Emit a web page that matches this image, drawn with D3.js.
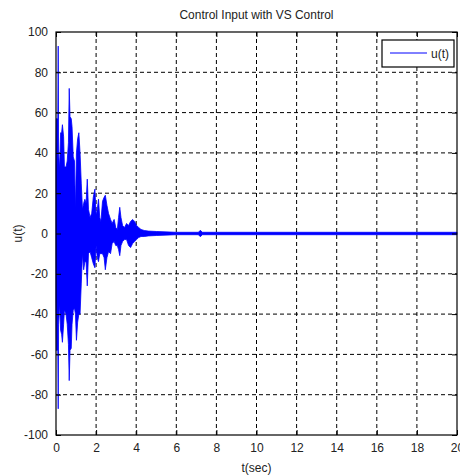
<!DOCTYPE html>
<html><head><meta charset="utf-8">
<script src="https://cdn.jsdelivr.net/npm/d3@7"></script>
<style>body{margin:0;background:#fff}text{font-family:"Liberation Sans",Arial,sans-serif;fill:#222}</style>
</head><body>
<svg id="c" width="460" height="475"></svg>
<script>
// ---- data ----
const title = "Control Input with VS Control";
const xLabel = "t(sec)";
const yLabel = "u(t)";
const seriesName = "u(t)";
const xTicks = [0,2,4,6,8,10,12,14,16,18,20];
const xTickLabels = ["0","2","4","6","8","10","12","14","16","18","20"];
const yTicks = [-100,-80,-60,-40,-20,0,20,40,60,80,100];
const yTickLabels = ["-100","-80","-60","-40","-20","0","20","40","60","80","100"];
// envelope of the fast-oscillating control signal: time (s), upper peaks, lower peaks
const time = [0,0.02,0.09,0.11,0.13,0.18,0.23,0.28,0.32,0.38,0.42,0.5,0.56,0.62,0.66,0.70,0.76,0.80,0.86,0.92,0.97,1.02,1.08,1.14,1.20,1.26,1.32,1.38,1.44,1.50,1.56,1.62,1.70,1.78,1.86,1.94,2.00,2.06,2.12,2.18,2.24,2.32,2.40,2.46,2.54,2.62,2.72,2.80,2.90,2.98,3.06,3.12,3.18,3.24,3.32,3.42,3.52,3.62,3.72,3.82,3.92,4.02,4.12,4.24,4.40,4.60,5.00,6.00,7.10,7.20,7.30,8.00,10.0,12.0,14.0,16.0,18.0,20.0];
const uUpper = [32,57,57,93,40,32,50,50,54,48,33,33,36,45,72,58,57,53,38,36,12,40,47,50,40,25,12,15,17,15,27,12,8,10,18,22,9,12,17,8,6,16,18,19,14,10,7,5,7,3,2,8,13,8,4,3,5,4,6,7,6,4,3,2,1.5,1.2,1,0.6,0.6,1.6,0.6,0.6,0.6,0.6,0.6,0.6,0.6,0.6];
const uLower = [-32,-58,-58,-87,-45,-35,-48,-50,-54,-45,-38,-40,-45,-55,-73,-58,-57,-45,-38,-37,-40,-53,-44,-40,-40,-25,-10,-18,-14,-14,-26,-10,-9,-12,-15,-17,-6,-12,-14,-10,-10,-10,-12,-18,-12,-9,-10,-5,-4,-6,-6,-8,-11,-6,-4,-3,-3,-6,-7,-5,-4,-3,-2,-1.5,-1.5,-1.2,-1,-0.6,-0.6,-1.6,-0.6,-0.6,-0.6,-0.6,-0.6,-0.6,-0.6,-0.6];

// ---- layout ----
const svg = d3.select("#c");
const L = 56, R = 457, T = 32, B = 435;
const x = d3.scaleLinear().domain([0,20]).range([L,R]);
const y = d3.scaleLinear().domain([-100,100]).range([B,T]);
const blue = "#0000ff";

// grid
const g = svg.append("g");
g.selectAll(".vg").data(xTicks.slice(1,-1)).enter().append("line")
  .attr("x1",d=>x(d)).attr("x2",d=>x(d)).attr("y1",T).attr("y2",B)
  .attr("stroke","#000").attr("stroke-width",1).attr("stroke-dasharray","4,3");
g.selectAll(".hg").data(yTicks.slice(1,-1)).enter().append("line")
  .attr("y1",d=>y(d)).attr("y2",d=>y(d)).attr("x1",L).attr("x2",R)
  .attr("stroke","#000").attr("stroke-width",1).attr("stroke-dasharray","4,3");

// data
const pts = time.map((t,i)=>({t, hi:uUpper[i], lo:uLower[i]}));
const area = d3.area().x(d=>x(d.t)).y0(d=>y(d.lo)).y1(d=>y(d.hi));
svg.append("path").datum(pts).attr("d",area).attr("fill",blue).attr("stroke",blue).attr("stroke-width",0.8);

// axes (inward ticks, all four sides)
const ax = svg.append("g");
const tl = 5;
ax.append("g").attr("transform",`translate(0,${B})`)
  .call(d3.axisBottom(x).tickValues(xTicks).tickFormat((d,i)=>xTickLabels[i]).tickSizeInner(-tl).tickSizeOuter(0).tickPadding(8));
ax.append("g").attr("transform",`translate(0,${T})`)
  .call(d3.axisTop(x).tickValues(xTicks).tickFormat("").tickSizeInner(-tl).tickSizeOuter(0));
ax.append("g").attr("transform",`translate(${L},0)`)
  .call(d3.axisLeft(y).tickValues(yTicks).tickFormat((d,i)=>yTickLabels[i]).tickSizeInner(-tl).tickSizeOuter(0).tickPadding(8));
ax.append("g").attr("transform",`translate(${R},0)`)
  .call(d3.axisRight(y).tickValues(yTicks).tickFormat("").tickSizeInner(-tl).tickSizeOuter(0));
ax.selectAll(".domain").remove();
ax.selectAll("line").attr("stroke","#000");
ax.selectAll("text").style("font-family","'Liberation Sans',Arial,sans-serif").style("font-size","12px").attr("fill","#222");
svg.append("rect").attr("x",L).attr("y",T).attr("width",R-L).attr("height",B-T)
  .attr("fill","none").attr("stroke","#000").attr("stroke-width",1.2);

// titles
svg.append("text").attr("x",(L+R)/2).attr("y",19).attr("text-anchor","middle")
  .style("font-size","12px").attr("textLength",154).attr("lengthAdjust","spacingAndGlyphs").text(title);
svg.append("text").attr("x",(L+R)/2).attr("y",472).attr("text-anchor","middle")
  .style("font-size","12px").text(xLabel);
svg.append("text").attr("transform",`translate(22,${(T+B)/2}) rotate(-90)`).attr("text-anchor","middle")
  .style("font-size","12px").text(yLabel);

// legend
const lg = svg.append("g");
lg.append("rect").attr("x",382).attr("y",40).attr("width",72).attr("height",27)
  .attr("fill","#fff").attr("stroke","#000").attr("stroke-width",1.2);
lg.append("line").attr("x1",390).attr("x2",427).attr("y1",53).attr("y2",53).attr("stroke",blue).attr("stroke-width",1);
lg.append("text").attr("x",431).attr("y",58).style("font-size","12px").text(seriesName);
</script>
</body></html>
